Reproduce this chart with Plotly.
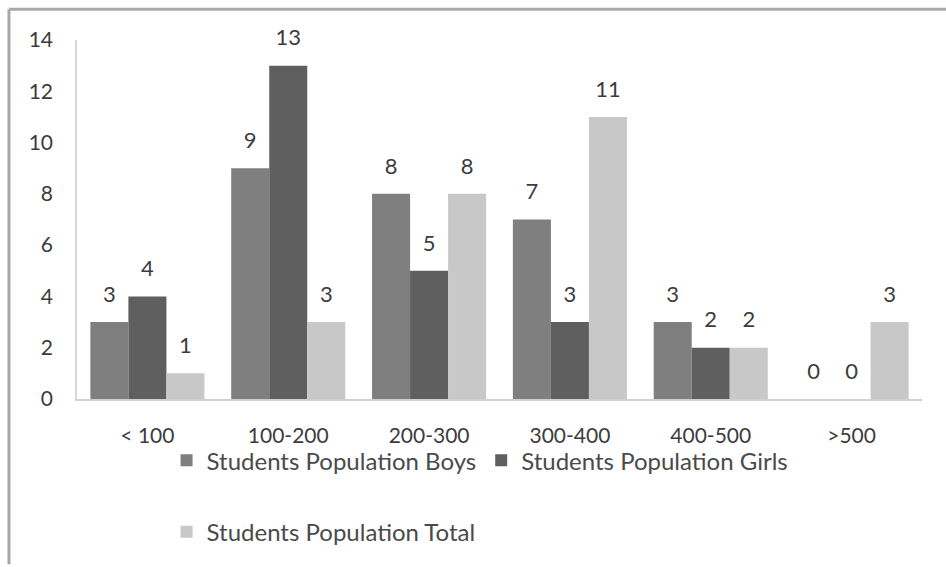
import plotly.graph_objects as go

# Student population by school size band
categories = ["< 100", "100-200", "200-300", "300-400", "400-500", ">500"]
boys = [3, 9, 8, 7, 3, 0]
girls = [4, 13, 5, 3, 2, 0]
total = [1, 3, 8, 11, 2, 3]
y_ticks = [0, 2, 4, 6, 8, 10, 12, 14]

FONT = "Lato"
TEXT_COLOR = "#3c3c3c"

series = [
    ("Students Population Boys", boys, "#7f7f7f", "legend", "b"),
    ("Students Population Girls", girls, "#5f5f5f", "legend", "g"),
    ("Students Population Total", total, "#c8c8c8", "legend2", "t"),
]

fig = go.Figure()
for name, vals, color, leg, grp in series:
    fig.add_trace(go.Bar(
        x=categories, y=vals, name=name, offsetgroup=grp,
        marker=dict(color=color, line=dict(width=0)),
        legend=leg, hoverinfo="x+y+name",
    ))

# value labels, grouped the same way as the bars
for name, vals, color, leg, grp in series:
    fig.add_trace(go.Scatter(
        x=categories, y=vals, offsetgroup=grp, mode="markers+text",
        marker=dict(size=22, opacity=0), text=[str(v) for v in vals],
        textposition="top center", cliponaxis=False,
        textfont=dict(family=FONT, size=22, color=TEXT_COLOR),
        showlegend=False, hoverinfo="skip",
    ))

fig.update_layout(
    width=946, height=567,
    margin=dict(l=77, r=24, t=40, b=166),
    paper_bgcolor="white", plot_bgcolor="white",
    barmode="group", bargap=0.19, bargroupgap=0,
    scattermode="group", scattergap=0.19,
    font=dict(family=FONT, size=21, color=TEXT_COLOR),
    showlegend=True,
    legend=dict(
        orientation="h", x=0.106, y=-0.1717, xanchor="left", yanchor="middle",
        font=dict(family=FONT, size=24, color="#4a4a4a"),
        itemwidth=30, itemclick=False, bgcolor="rgba(0,0,0,0)",
    ),
    legend2=dict(
        orientation="h", x=0.106, y=-0.371, xanchor="left", yanchor="middle",
        font=dict(family=FONT, size=24, color="#4a4a4a"),
        itemwidth=30, itemclick=False, bgcolor="rgba(0,0,0,0)",
    ),
    xaxis=dict(
        showline=True, linecolor="#d0d0d0", linewidth=1.5,
        ticks="", showgrid=False, ticklabelstandoff=17,
        tickfont=dict(family=FONT, size=21, color=TEXT_COLOR),
    ),
    yaxis=dict(
        range=[0, 14], tickvals=y_ticks, showline=True, linecolor="#d8d8d8",
        linewidth=1.5, ticks="", showgrid=False, zeroline=False,
        ticklabelstandoff=18,
        tickfont=dict(family=FONT, size=21, color=TEXT_COLOR),
    ),
    shapes=[
        dict(type="line", xref="paper", yref="paper", x0=-0.0805, x1=1.04,
             y0=1.086, y1=1.086, line=dict(color="#a8a8a8", width=3)),
        dict(type="line", xref="paper", yref="paper", x0=-0.0805, x1=-0.0805,
             y0=1.086, y1=-0.46, line=dict(color="#a8a8a8", width=3)),
    ],
)

fig.write_html("out.html")
